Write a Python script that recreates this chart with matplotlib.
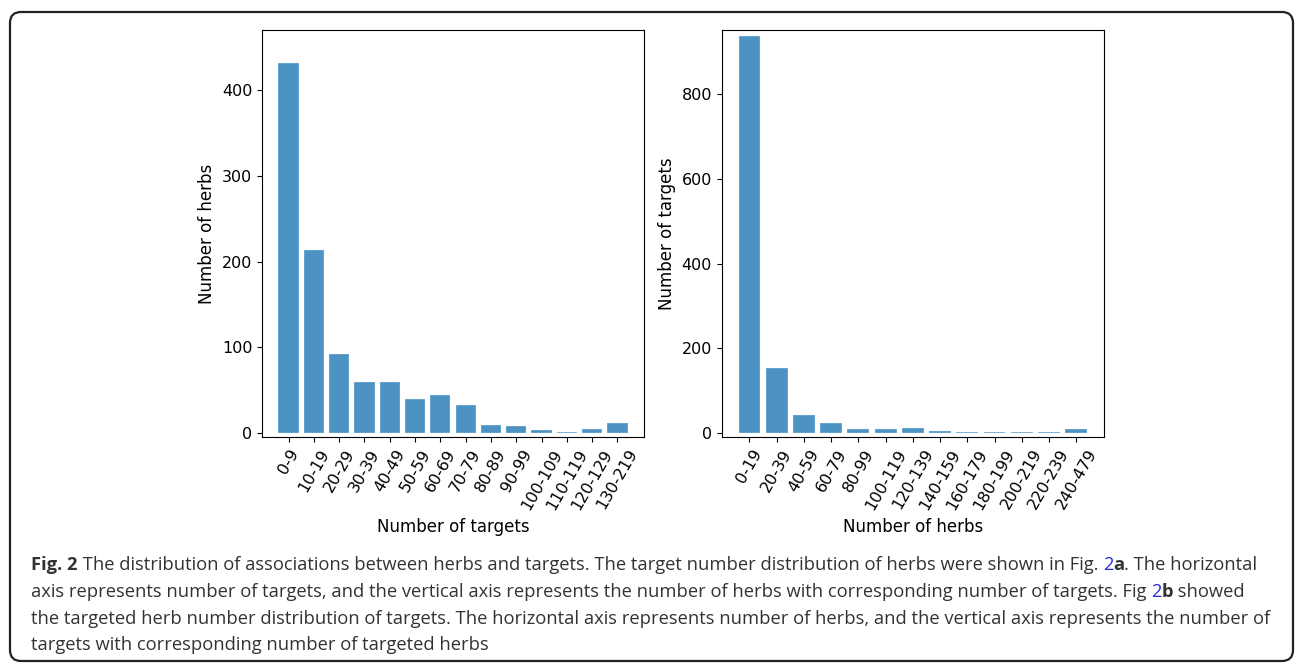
import numpy as np
import matplotlib
matplotlib.use('Agg')
from matplotlib import pyplot as plt
from matplotlib.patches import FancyBboxPatch

# herbs binned by number of targets
target_bins = ['0-9', '10-19', '20-29', '30-39', '40-49', '50-59', '60-69',
               '70-79', '80-89', '90-99', '100-109', '110-119', '120-129', '130-219']
herb_counts = [431, 213, 92, 60, 60, 40, 45, 33, 10, 8, 4, 1.5, 5, 12]

# targets binned by number of herbs
herb_bins = ['0-19', '20-39', '40-59', '60-79', '80-99', '100-119', '120-139',
             '140-159', '160-179', '180-199', '200-219', '220-239', '240-479']
target_counts = [937, 153, 42, 25, 9, 9, 12, 5, 2.5, 4, 2.5, 2.5, 9]

W, H = 1296, 664
fig = plt.figure(figsize=(W/100, H/100), dpi=100)

def px_axes(x0, y0, x1, y1):
    return fig.add_axes([x0/W, 1 - y1/H, (x1 - x0)/W, (y1 - y0)/H])

bar_kw = dict(width=0.8, color='tab:blue', alpha=0.8, edgecolor='#eef4fa', linewidth=0.3)

ax1 = px_axes(262, 30, 644, 437)
ax1.bar(np.arange(len(target_bins)), herb_counts, **bar_kw)
ax1.set_xticks(np.arange(len(target_bins)))
ax1.set_xticklabels(target_bins, rotation=60, ha='center')
ax1.set_xlim(-1.05, len(target_bins) + 0.05)
ax1.set_ylim(-4.3, 469.5)
ax1.set_yticks([0, 100, 200, 300, 400])
ax1.set_xlabel('Number of targets', fontsize=12)
ax1.set_ylabel('Number of herbs', fontsize=12)

ax2 = px_axes(721.7, 30, 1104, 437)
ax2.bar(np.arange(len(herb_bins)), target_counts, **bar_kw)
ax2.set_xticks(np.arange(len(herb_bins)))
ax2.set_xticklabels(herb_bins, rotation=60, ha='center')
ax2.set_xlim(-1.02, len(herb_bins) + 0.02)
ax2.set_ylim(-8.7, 951)
ax2.set_yticks([0, 200, 400, 600, 800])
ax2.set_xlabel('Number of herbs', fontsize=12)
ax2.set_ylabel('Number of targets', fontsize=12)

for ax in (ax1, ax2):
    ax.tick_params(labelsize=11.5)

# frame round the whole figure
frame = FancyBboxPatch((10/100, 3/100), 1283/100, 649/100,
                       boxstyle='round,pad=0,rounding_size=0.11',
                       transform=fig.dpi_scale_trans, fill=False,
                       edgecolor='#222222', linewidth=1.6)
fig.add_artist(frame)

# caption, written piece by piece so bold / link parts can be styled
cap_font = 'Open Sans'
cap_size = 13.2
grey = '#333333'
link = '#2b2bd8'
caption = [
    [('Fig. 2', 'bold', grey),
     (' The distribution of associations between herbs and targets. The target number distribution of herbs were shown in Fig. ', 'normal', grey),
     ('2', 'normal', link), ('a', 'bold', grey), ('. The horizontal', 'normal', grey)],
    [('axis represents number of targets, and the vertical axis represents the number of herbs with corresponding number of targets. Fig ', 'normal', grey),
     ('2', 'normal', link), ('b', 'bold', grey), (' showed', 'normal', grey)],
    [('the targeted herb number distribution of targets. The horizontal axis represents number of herbs, and the vertical axis represents the number of', 'normal', grey)],
    [('targets with corresponding number of targeted herbs', 'normal', grey)],
]
line_y = [565, 592, 619, 645]

renderer = fig.canvas.get_renderer()
for parts, y in zip(caption, line_y):
    x = 31
    for s, weight, col in parts:
        t = fig.text(x/W, 1 - y/H, s, fontsize=cap_size, fontweight=weight,
                     color=col, family=cap_font, va='center', ha='left')
        x += t.get_window_extent(renderer).width

fig.savefig('out.png', dpi=100)
